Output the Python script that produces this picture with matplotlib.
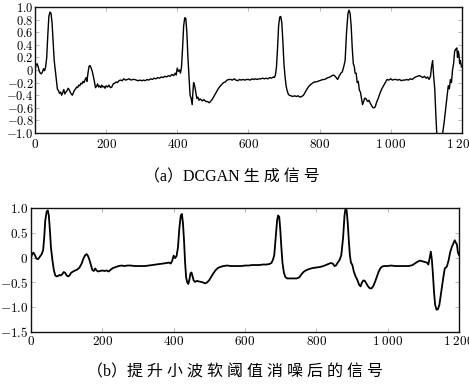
import numpy as np
import matplotlib
matplotlib.use("Agg")
import matplotlib.pyplot as plt
from matplotlib.ticker import FuncFormatter

plt.rcParams.update({
    "mathtext.fontset": "cm",
    "axes.linewidth": 1.0,
    "axes.edgecolor": "#111",
})

# (a) DCGAN generated signal
gen_x = [0, 3, 6, 9, 12, 15, 18, 21, 24, 27, 30, 33, 36, 39, 42, 45, 48, 51, 54, 57,
         60, 63, 66, 69, 72, 75, 78, 81, 84, 87, 90, 93, 96, 99, 102, 105, 108, 111, 114, 117,
         120, 123, 126, 129, 132, 135, 138, 141, 144, 146, 149, 152, 155, 158, 161, 164, 167, 170, 173, 176,
         179, 182, 185, 188, 191, 194, 197, 200, 204, 208, 212, 216, 220, 224, 228, 232, 236, 240, 245, 250,
         255, 260, 265, 270, 275, 280, 285, 290, 295, 300, 305, 310, 315, 320, 325, 330, 335, 340, 345, 350,
         355, 360, 365, 370, 375, 380, 385, 390, 394, 397, 400, 403, 406, 409, 412, 415, 418, 421, 424, 427,
         430, 433, 436, 439, 442, 444, 446, 449, 452, 455, 458, 461, 464, 467, 470, 475, 480, 485, 490, 495,
         500, 505, 510, 515, 520, 525, 530, 535, 540, 545, 550, 555, 560, 565, 570, 575, 580, 585, 590, 595,
         600, 605, 610, 615, 620, 625, 630, 635, 640, 645, 650, 655, 660, 665, 670, 673, 676, 679, 682, 685,
         688, 691, 694, 697, 700, 703, 706, 709, 712, 715, 720, 725, 730, 735, 740, 745, 750, 755, 760, 765,
         770, 775, 780, 785, 790, 795, 800, 805, 810, 815, 820, 825, 830, 835, 840, 844, 848, 851, 855, 860,
         864, 868, 872, 876, 880, 883, 886, 889, 892, 895, 898, 900, 903, 906, 909, 912, 915, 918, 921, 924,
         927, 930, 933, 936, 939, 942, 945, 948, 951, 954, 957, 960, 965, 970, 975, 980, 985, 990, 995, 1000,
         1005, 1010, 1015, 1020, 1025, 1030, 1035, 1040, 1045, 1050, 1055, 1060, 1065, 1070, 1075, 1080, 1085, 1090, 1095, 1100,
         1104, 1108, 1112, 1115, 1118, 1121, 1124, 1127, 1130, 1135, 1140, 1145, 1150, 1153, 1156, 1159, 1162, 1165, 1168, 1171,
         1174, 1177, 1180, 1183, 1186, 1188, 1190, 1192, 1194, 1196, 1199]
gen_y = [0.00, 0.08, 0.10, 0.05, -0.02, -0.05, -0.06, -0.03, 0.02, -0.01, 0.05, 0.20, 0.55, 0.85, 0.92, 0.90, 0.75, 0.45, 0.15, 0.00,
         -0.15, -0.30, -0.33, -0.37, -0.35, -0.40, -0.36, -0.31, -0.38, -0.35, -0.33, -0.29, -0.31, -0.35, -0.38, -0.40, -0.36, -0.32, -0.30, -0.27,
         -0.28, -0.24, -0.25, -0.21, -0.22, -0.18, -0.20, -0.15, -0.12, -0.18, -0.05, 0.06, 0.07, 0.03, -0.02, -0.10, -0.18, -0.28, -0.26, -0.22,
         -0.27, -0.25, -0.28, -0.24, -0.27, -0.26, -0.29, -0.25, -0.27, -0.24, -0.28, -0.27, -0.22, -0.21, -0.19, -0.20, -0.17, -0.16, -0.17, -0.14,
         -0.16, -0.15, -0.14, -0.16, -0.15, -0.15, -0.16, -0.17, -0.16, -0.17, -0.16, -0.17, -0.15, -0.16, -0.14, -0.15, -0.13, -0.14, -0.12, -0.13,
         -0.11, -0.12, -0.10, -0.11, -0.09, -0.10, -0.07, -0.09, -0.05, -0.08, 0.03, -0.02, 0.00, -0.05, 0.05, 0.35, 0.70, 0.83, 0.82, 0.60,
         0.20, -0.10, -0.40, -0.45, -0.55, -0.35, -0.20, -0.25, -0.35, -0.45, -0.43, -0.48, -0.46, -0.47, -0.49, -0.47, -0.50, -0.50, -0.52, -0.49,
         -0.45, -0.40, -0.35, -0.30, -0.26, -0.23, -0.20, -0.19, -0.16, -0.15, -0.15, -0.16, -0.14, -0.16, -0.17, -0.15, -0.16, -0.15, -0.16, -0.15,
         -0.15, -0.16, -0.14, -0.15, -0.14, -0.15, -0.14, -0.14, -0.13, -0.14, -0.13, -0.14, -0.12, -0.13, -0.11, -0.12, -0.08, 0.05, 0.35, 0.70,
         0.84, 0.85, 0.75, 0.45, 0.10, -0.10, -0.25, -0.33, -0.38, -0.40, -0.41, -0.42, -0.41, -0.42, -0.41, -0.43, -0.42, -0.40, -0.35, -0.30,
         -0.26, -0.23, -0.21, -0.19, -0.19, -0.18, -0.17, -0.16, -0.15, -0.15, -0.13, -0.12, -0.11, -0.09, -0.08, -0.10, -0.13, -0.15, -0.10, -0.05,
         -0.03, 0.05, 0.15, 0.60, 0.90, 0.95, 0.90, 0.70, 0.35, 0.10, 0.05, -0.05, -0.05, -0.20, -0.18, -0.32, -0.35, -0.45, -0.55, -0.50,
         -0.45, -0.45, -0.48, -0.50, -0.48, -0.52, -0.55, -0.58, -0.60, -0.60, -0.58, -0.52, -0.45, -0.37, -0.30, -0.25, -0.20, -0.15, -0.16, -0.14,
         -0.16, -0.15, -0.15, -0.16, -0.15, -0.17, -0.16, -0.16, -0.15, -0.16, -0.14, -0.15, -0.13, -0.11, -0.10, -0.09, -0.10, -0.12, -0.10, -0.13,
         -0.11, -0.15, -0.10, 0.05, 0.15, -0.10, -0.30, -0.70, -1.05, -1.10, -1.10, -1.05, -0.85, -0.70, -0.55, -0.40, -0.25, -0.30, -0.15, -0.20,
         0.00, 0.10, 0.30, 0.33, 0.35, 0.20, 0.30, 0.25, 0.10, 0.15, 0.05]

# (b) denoised signal
den_x = [0, 4, 7, 11, 15, 20, 25, 30, 34, 37, 40, 44, 47, 50, 53, 56, 60, 64, 68, 72,
         76, 80, 84, 88, 92, 96, 100, 104, 108, 112, 118, 124, 130, 136, 142, 147, 152, 156, 160, 164,
         168, 172, 176, 180, 184, 188, 194, 200, 206, 212, 218, 224, 230, 238, 246, 254, 262, 270, 280, 290,
         300, 310, 320, 330, 340, 350, 360, 370, 380, 386, 392, 396, 400, 404, 408, 412, 416, 420, 423, 426,
         429, 432, 435, 438, 441, 444, 447, 450, 453, 456, 460, 465, 470, 476, 482, 488, 494, 500, 506, 512,
         518, 524, 530, 540, 550, 560, 570, 580, 590, 600, 610, 620, 630, 640, 650, 660, 668, 674, 678, 682,
         686, 690, 693, 696, 699, 702, 705, 709, 713, 718, 725, 735, 745, 752, 758, 764, 770, 780, 790, 800,
         810, 820, 830, 840, 846, 851, 855, 860, 865, 870, 875, 879, 882, 885, 888, 891, 894, 897, 901, 905,
         910, 915, 920, 924, 928, 932, 936, 940, 945, 950, 955, 960, 965, 970, 975, 980, 985, 990, 1000, 1010,
         1020, 1030, 1040, 1050, 1060, 1070, 1080, 1090, 1100, 1110, 1114, 1118, 1121, 1124, 1127, 1130, 1133, 1137, 1141, 1145,
         1149, 1153, 1156, 1160, 1163, 1166, 1171, 1175, 1180, 1184, 1188, 1191, 1194, 1197, 1200]
den_y = [0.00, 0.08, 0.10, 0.05, -0.02, -0.03, 0.02, 0.07, 0.15, 0.40, 0.75, 0.93, 0.95, 0.85, 0.55, 0.20, -0.05, -0.25, -0.36, -0.38,
         -0.37, -0.35, -0.36, -0.33, -0.29, -0.31, -0.36, -0.38, -0.36, -0.31, -0.28, -0.26, -0.24, -0.20, -0.12, -0.02, 0.05, 0.07, 0.03, -0.05,
         -0.15, -0.25, -0.27, -0.22, -0.26, -0.28, -0.27, -0.26, -0.27, -0.26, -0.28, -0.24, -0.21, -0.19, -0.17, -0.16, -0.17, -0.16, -0.16, -0.17,
         -0.17, -0.17, -0.17, -0.16, -0.15, -0.14, -0.13, -0.12, -0.11, -0.10, -0.12, -0.06, 0.04, -0.01, 0.03, 0.20, 0.60, 0.85, 0.88, 0.70,
         0.35, -0.10, -0.40, -0.50, -0.53, -0.45, -0.32, -0.30, -0.38, -0.46, -0.49, -0.47, -0.48, -0.49, -0.50, -0.52, -0.50, -0.45, -0.38, -0.31,
         -0.25, -0.21, -0.19, -0.17, -0.16, -0.17, -0.17, -0.17, -0.17, -0.16, -0.16, -0.15, -0.15, -0.15, -0.14, -0.14, -0.13, -0.11, -0.05, 0.05,
         0.40, 0.75, 0.85, 0.82, 0.55, 0.20, -0.10, -0.30, -0.39, -0.42, -0.42, -0.42, -0.42, -0.40, -0.34, -0.29, -0.26, -0.23, -0.21, -0.20,
         -0.19, -0.17, -0.14, -0.11, -0.12, -0.17, -0.16, -0.10, -0.05, 0.05, 0.40, 0.85, 1.00, 0.95, 0.70, 0.35, 0.05, -0.10, -0.15, -0.28,
         -0.38, -0.45, -0.55, -0.58, -0.50, -0.46, -0.47, -0.52, -0.58, -0.62, -0.62, -0.57, -0.48, -0.38, -0.28, -0.21, -0.18, -0.17, -0.17, -0.16,
         -0.17, -0.17, -0.17, -0.17, -0.17, -0.15, -0.10, -0.06, -0.08, -0.10, -0.14, 0.00, 0.12, -0.05, -0.35, -0.70, -0.95, -1.05, -1.04, -0.95,
         -0.75, -0.56, -0.40, -0.22, -0.20, -0.18, -0.05, 0.10, 0.22, 0.28, 0.35, 0.30, 0.27, 0.10, 0.05]

cap_a = "（a）DCGAN 生 成 信 号"
cap_b = "（b）提 升 小 波 软 阈 值 消 噪 后 的 信 号"
cap_font = ["Liberation Serif", "Noto Sans CJK SC"]


def fmt_x(v, _):
    s = f"{int(round(v)):,}".replace(",", "\\;")
    return f"${s}$"


def fmt_y(v, _):
    if abs(v) < 1e-9:
        return "$0$"
    return f"${v:.1f}$"


def style_axes(ax, yticks, ylim):
    ax.set_xlim(0, 1200)
    ax.set_ylim(*ylim)
    ax.set_xticks(np.arange(0, 1201, 200))
    ax.set_yticks(yticks)
    ax.xaxis.set_major_formatter(FuncFormatter(fmt_x))
    ax.yaxis.set_major_formatter(FuncFormatter(fmt_y))
    ax.tick_params(direction="in", top=True, right=True, length=3, width=0.6,
                   color="#b0b0b0", labelsize=9.5, pad=2)


fig = plt.figure(figsize=(4.69, 3.92), dpi=100)

ax1 = fig.add_axes([0.0746, 0.6607, 0.910, 0.3214])
ax1.plot(gen_x, gen_y, color="black", lw=1.0)
style_axes(ax1, np.round(np.arange(-1.0, 1.01, 0.2), 1), (-1.0, 1.0))
ax1.tick_params(axis="y", pad=1, labelsize=9)
ax1.tick_params(axis="x", pad=3.5)

ax2 = fig.add_axes([0.0661, 0.1531, 0.9126, 0.3163])
ax2.plot(den_x, den_y, color="black", lw=1.3)
style_axes(ax2, [-1.5, -1.0, -0.5, 0, 0.5, 1.0], (-1.5, 1.0))

fig.text(0.495, 1 - 177 / 392, cap_a, ha="center", va="center", fontsize=11.5, family=cap_font)
fig.text(0.50, 1 - 372 / 392, cap_b, ha="center", va="center", fontsize=11.5, family=cap_font)

fig.savefig("out.png", dpi=100)
